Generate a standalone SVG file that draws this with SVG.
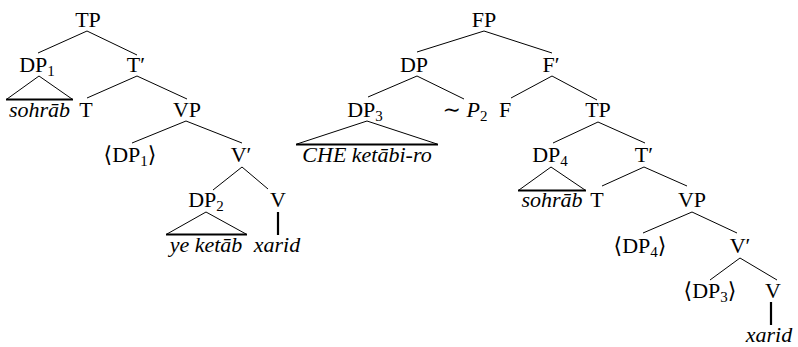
<svg xmlns="http://www.w3.org/2000/svg" width="798" height="347" viewBox="0 0 798 347" font-family="'Liberation Serif', 'Times New Roman', 'DejaVu Serif', serif">
<style>
text{font-size:22px;fill:#000;text-anchor:middle}
.it{font-style:italic}
.sub{font-size:15px}
.br{stroke:#000;stroke-width:1;fill:none}
.bar{stroke:#000;stroke-width:2.2;fill:none}
</style>
<rect width="798" height="347" fill="#fff"/>
<g id="connectors">
<path class="br" d="M87 31L38 53M87 31L137 55"/>
<path class="br" d="M39 76L7 99M39 76L72 99"/>
<path class="bar" d="M6 99.5H73"/>
<path class="br" d="M137 76L87 98M137 76L187 99"/>
<path class="br" d="M186 121L132 143M186 121L242 143"/>
<path class="br" d="M242 167L213 190M242 167L268 189"/>
<path class="br" d="M206 212L167 234M206 212L246 234"/>
<path class="bar" d="M166 234.5H247"/>
<path class="bar" d="M278 212V235"/>
<path class="br" d="M484 31L417 52M484 31L552 53"/>
<path class="br" d="M417 76L368 97M417 76L464 99"/>
<path class="br" d="M367 121L297 144M367 121L437 144"/>
<path class="bar" d="M296 144.5H438"/>
<path class="br" d="M552 76L511 98M552 76L597 100"/>
<path class="br" d="M598 122L553 143M598 122L645 143"/>
<path class="br" d="M551 167L519 190M551 167L585 190"/>
<path class="bar" d="M518 190.5H586"/>
<path class="br" d="M644 167L602 186M644 167L687 186"/>
<path class="br" d="M692 212L643 233M692 212L737 233"/>
<path class="br" d="M740 258L710 280M740 258L777 280"/>
<path class="bar" d="M771 302V325"/>
</g>
<g id="n-TP1"><text x="88" y="27">TP</text></g>
<g id="n-DP1"><text x="37" y="72">DP<tspan class="sub" dy="4">1</tspan></text></g>
<g id="n-Tbar1"><text x="136" y="72">T′</text></g>
<g id="n-sohrab1"><text class="it" x="39.5" y="117">sohrāb</text></g>
<g id="n-T1"><text x="86" y="117">T</text></g>
<g id="n-VP1"><text x="187" y="117">VP</text></g>
<g id="n-tDP1"><text x="130" y="162">⟨DP<tspan class="sub" dy="4">1</tspan><tspan dy="-4">⟩</tspan></text></g>
<g id="n-Vbar1"><text x="241" y="162">V′</text></g>
<g id="n-DP2"><text x="206" y="207">DP<tspan class="sub" dy="4">2</tspan></text></g>
<g id="n-V1"><text x="278" y="207">V</text></g>
<g id="n-yeketab"><text class="it" x="206" y="252">ye ketāb</text></g>
<g id="n-xarid1"><text class="it" x="277" y="252">xarid</text></g>
<g id="n-FP"><text x="484" y="27">FP</text></g>
<g id="n-DP"><text x="414" y="72">DP</text></g>
<g id="n-Fbar"><text x="551" y="72">F′</text></g>
<g id="n-DP3"><text x="365" y="117">DP<tspan class="sub" dy="4">3</tspan></text></g>
<g id="n-P2"><text x="465" y="117">∼ <tspan class="it">P</tspan><tspan class="sub" dy="4">2</tspan></text></g>
<g id="n-F"><text x="505" y="117">F</text></g>
<g id="n-TP2"><text x="598" y="117">TP</text></g>
<g id="n-che"><text class="it" x="367" y="162">CHE ketābi-ro</text></g>
<g id="n-DP4"><text x="550" y="162">DP<tspan class="sub" dy="4">4</tspan></text></g>
<g id="n-Tbar2"><text x="644" y="162">T′</text></g>
<g id="n-sohrab2"><text class="it" x="552" y="207">sohrāb</text></g>
<g id="n-T2"><text x="597" y="207">T</text></g>
<g id="n-VP2"><text x="692" y="207">VP</text></g>
<g id="n-tDP4"><text x="640" y="253">⟨DP<tspan class="sub" dy="4">4</tspan><tspan dy="-4">⟩</tspan></text></g>
<g id="n-Vbar2"><text x="740" y="253">V′</text></g>
<g id="n-tDP3"><text x="710" y="298">⟨DP<tspan class="sub" dy="4">3</tspan><tspan dy="-4">⟩</tspan></text></g>
<g id="n-V2"><text x="773" y="298">V</text></g>
<g id="n-xarid2"><text class="it" x="769" y="342">xarid</text></g>
</svg>
